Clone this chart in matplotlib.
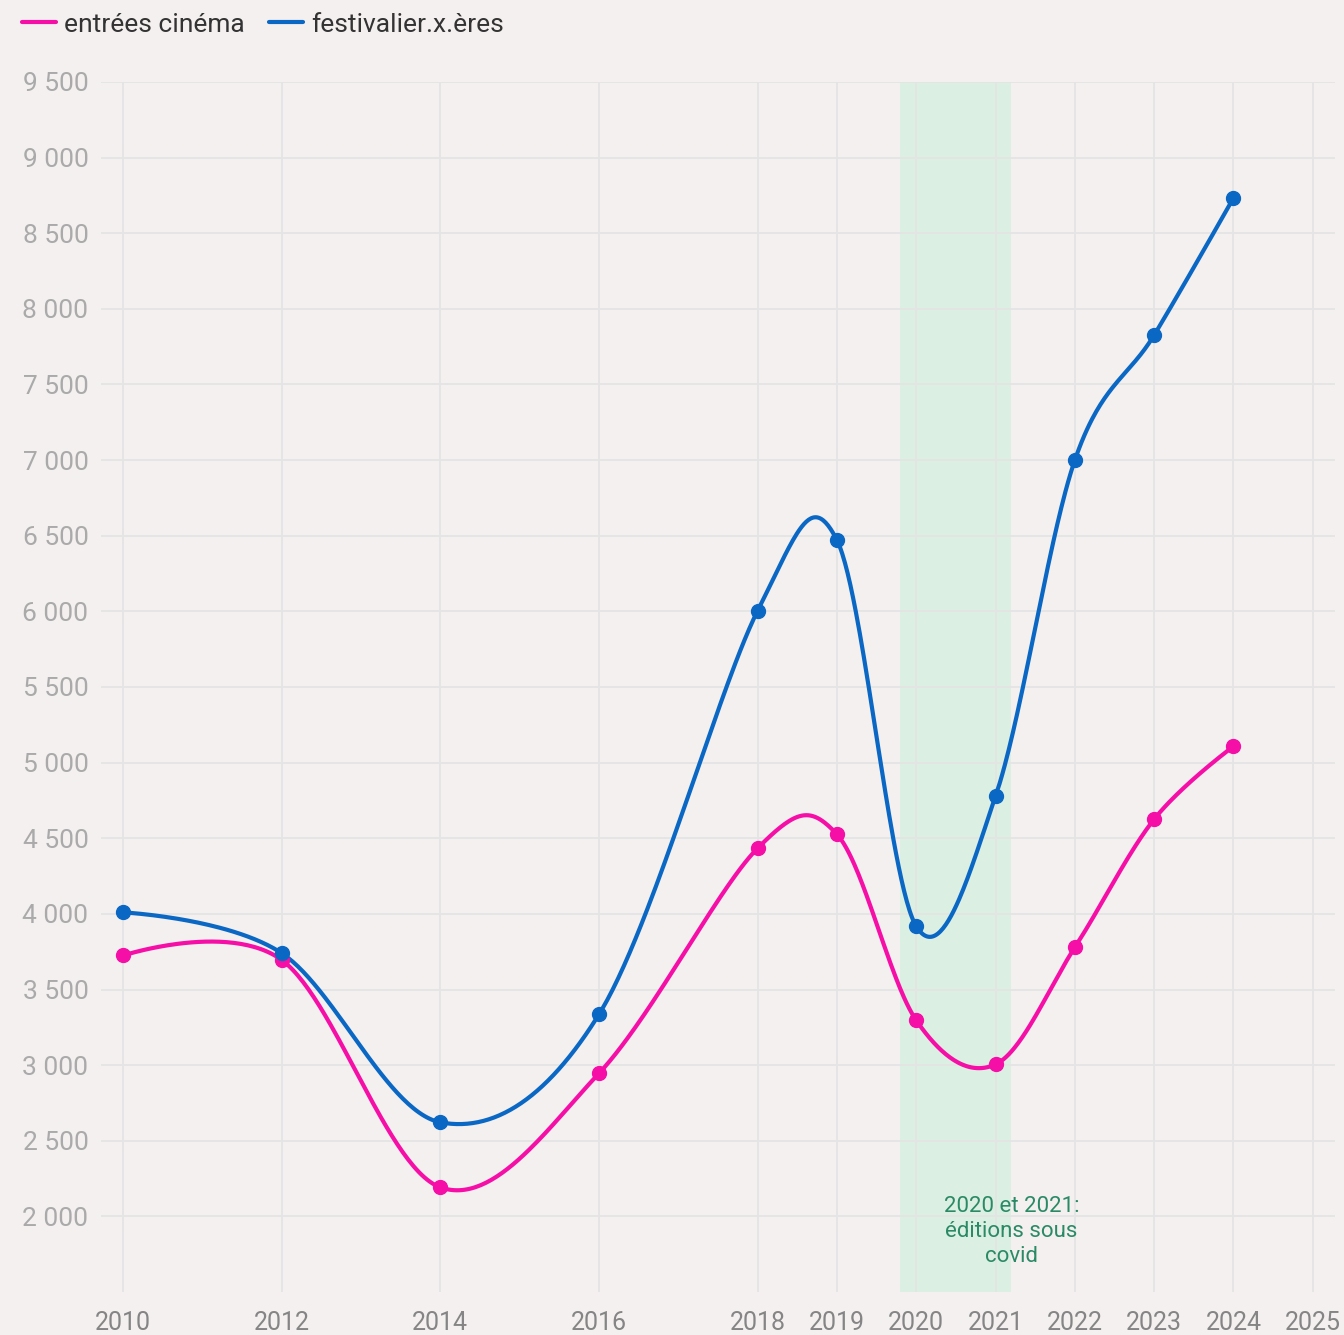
import numpy as np
import matplotlib
matplotlib.use("Agg")
import matplotlib.pyplot as plt

plt.rcParams["font.family"] = ["Roboto", "DejaVu Sans"]

# data
years = [2010, 2012, 2014, 2016, 2018, 2019, 2020, 2021, 2022, 2023, 2024]
cinema = [3725, 3695, 2192, 2946, 4434, 4526, 3296, 3005, 3779, 4626, 5108]
festival = [4010, 3740, 2622, 3336, 6004, 6471, 3918, 4778, 7000, 7827, 8733]
series_names = ["entrées cinéma", "festivalier.x.ères"]
xticks = [2010, 2012, 2014, 2016, 2018, 2019, 2020, 2021, 2022, 2023, 2024, 2025]
yticks = list(range(2000, 10000, 500))
covid_band = (2019.80, 2021.19)
covid_note = "2020 et 2021:\néditions sous\ncovid"

pink = "#f50fa6"
blue = "#0a68c4"
bg = "#f5f0f0"


def cardinal(xs, ys, steps=60):
    # cardinal spline, tension 0 (end control points sit on the end points)
    p = np.column_stack([xs, ys]).astype(float)
    k = 1.0 / 6.0
    t = np.linspace(0, 1, steps)[:, None]
    pieces = []
    for i in range(len(p) - 1):
        prev = p[i - 1] if i > 0 else p[i + 1]
        nxt = p[i + 2] if i + 2 < len(p) else p[i]
        c1 = p[i] + k * (p[i + 1] - prev) if i > 0 else p[i]
        c2 = p[i + 1] - k * (nxt - p[i]) if i + 2 < len(p) else p[i + 1]
        seg = ((1 - t) ** 3 * p[i] + 3 * (1 - t) ** 2 * t * c1
               + 3 * (1 - t) * t ** 2 * c2 + t ** 3 * p[i + 1])
        pieces.append(seg)
    out = np.vstack(pieces)
    return out[:, 0], out[:, 1]


fig = plt.figure(figsize=(13.44, 13.35), dpi=100, facecolor=bg)
ax = fig.add_axes([0.0751, 0.0322, 0.9182, 0.9064], facecolor=bg)

ax.axvspan(*covid_band, color="#dcefe3", zorder=0, lw=0)

for vals, col, name in ((cinema, pink, series_names[0]), (festival, blue, series_names[1])):
    sx, sy = cardinal(years, vals)
    ax.plot(sx, sy, color=col, lw=3, solid_capstyle="round", label=name, zorder=3)
    ax.plot(years, vals, "o", color=col, ms=10, zorder=4)

ax.text(2021.2, 1900, covid_note, ha="center", va="center", color="#2a8a66",
        fontsize=16, linespacing=1.26, zorder=5)

ax.set_xlim(2009.72, 2025.28)
ax.set_ylim(1500, 9500)
ax.set_xticks(xticks)
ax.set_yticks(yticks)
ax.set_yticklabels([f"{v:,}".replace(",", " ") for v in yticks])
ax.tick_params(axis="y", length=0, pad=9, labelsize=19, labelcolor="#aaaaaa")
ax.tick_params(axis="x", length=0, pad=14, labelsize=18, labelcolor="#858585")
ax.grid(True, color="#e4e4e4", lw=1.3, zorder=1)
ax.set_axisbelow(True)
for s in ax.spines.values():
    s.set_visible(False)

handles, labels = ax.get_legend_handles_labels()
leg = fig.legend(handles, labels, loc="upper left", bbox_to_anchor=(22 / 1344, 0.9905),
                 ncol=2, frameon=False, fontsize=19, handlelength=1.3,
                 handletextpad=0.3, columnspacing=0.9, borderpad=0,
                 borderaxespad=0, labelcolor="#333333")
for h in leg.get_lines():
    h.set_linewidth(3)

fig.savefig("out.png", dpi=100, facecolor=bg)
